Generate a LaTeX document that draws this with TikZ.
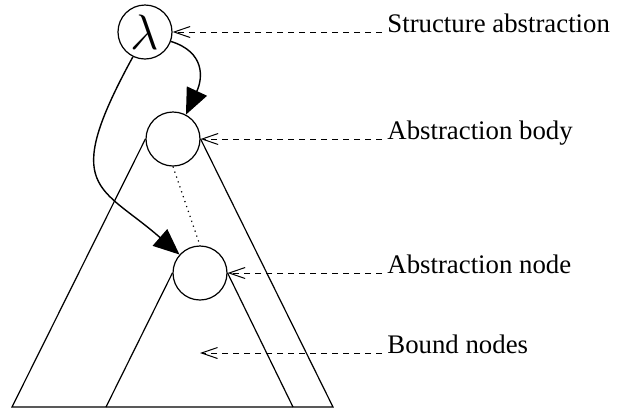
\documentclass[tikz,border=0pt]{standalone}
\usepackage{fontspec}
\setmainfont{Liberation Serif}
\usetikzlibrary{arrows.meta}
\begin{document}
\begin{tikzpicture}[x=0.5pt,y=-0.5pt,
  circ/.style={circle,draw,line width=0.6pt,minimum size=27pt,inner sep=0pt},
  lbl/.style={anchor=base west,inner sep=0pt,font=\fontsize{13.4}{16}\selectfont},
  ptr/.style={line width=0.5pt,dash pattern=on 3pt off 2.5pt,-{Straight Barb[length=8pt,width=5.5pt]}},
  big/.style={line width=0.7pt,-{Triangle[length=13pt,width=11pt]}},
  edgeline/.style={line width=0.6pt},
  dotline/.style={line width=0.6pt,dash pattern=on 0.6pt off 2pt}]
\useasboundingbox (0,0) rectangle (632,414);
% circles
\node[circ] (lam) at (145,32) {\fontsize{23}{23}\selectfont$\lambda$};
\node[circ] (body) at (173,139) {};
\node[circ] (anode) at (200,273) {};
% triangle corners
\coordinate (o1) at (12,407);
\coordinate (o2) at (333,407);
\coordinate (i1) at (106,407);
\coordinate (i2) at (293,407);
\draw[edgeline] (body.west) -- (o1) -- (o2) -- (body.east);
\draw[edgeline] (anode.west) -- (i1);
\draw[edgeline] (anode.east) -- (i2);
% dotted link
\draw[dotline] (body.south) -- (anode.north);
% big arrows
\draw[big] (lam.-20) .. controls (205,52) and (203,78) .. (body.62);
\draw[big] (lam.-116) .. controls (60,190) and (100,185) .. (anode.138);
% labels
\node[lbl] (t1) at (387,32) {Structure abstraction};
\node[lbl] (t2) at (387,139) {Abstraction body};
\node[lbl] (t3) at (387,273) {Abstraction node};
\node[lbl] (t4) at (387,353) {Bound nodes};
\coordinate (bn) at (200,353);
\draw[ptr] ([xshift=-2.5pt]t1.base west) -- (lam.east);
\draw[ptr] ([xshift=-2.5pt]t2.base west) -- (body.east);
\draw[ptr] ([xshift=-2.5pt]t3.base west) -- (anode.east);
\draw[ptr] ([xshift=-2.5pt]t4.base west) -- (bn);
\end{tikzpicture}
\end{document}
